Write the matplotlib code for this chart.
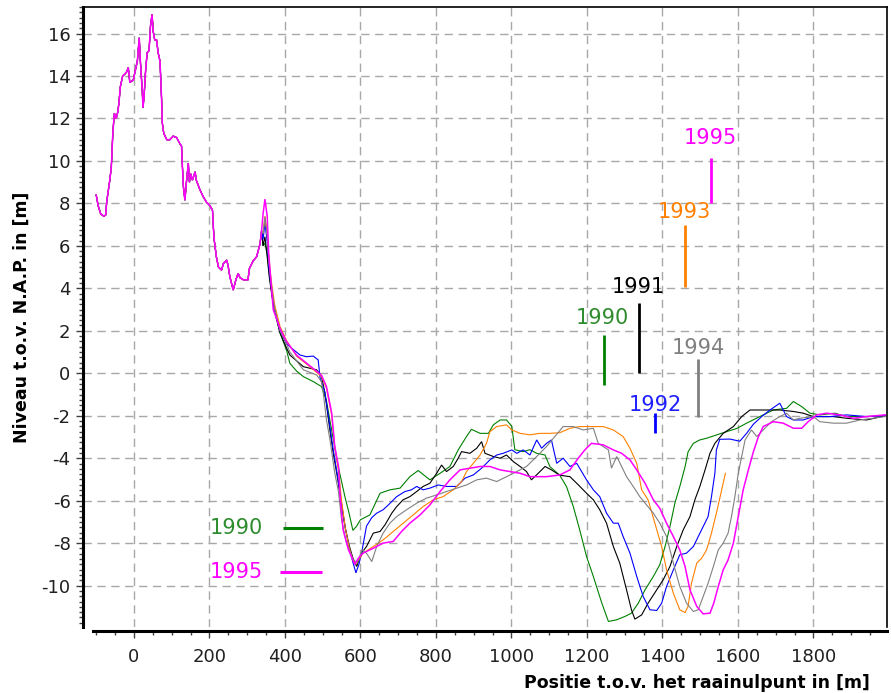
import numpy as np
import matplotlib
matplotlib.use("Agg")
import matplotlib.pyplot as plt
from matplotlib.ticker import MultipleLocator

plt.rcParams['font.family'] = ['DejaVu Sans']
plt.rcParams['lines.scale_dashes'] = False
plt.rcParams['axes.unicode_minus'] = False

# ---------------- data ----------------
# shared dune profile (all surveys nearly identical here): [x, y]
dune = np.array([
    [-100, 8.4], [-95, 7.9], [-88, 7.5], [-80, 7.4], [-75, 7.45], [-72, 8.1], [-64, 9.1],
    [-60, 9.7], [-56, 11.3], [-52, 12.25], [-47, 12.0], [-43, 12.3], [-40, 12.7], [-36, 13.5],
    [-30, 14.0], [-24, 14.1], [-19, 14.2], [-15, 14.4], [-11, 13.7], [-2, 13.8], [4, 14.3],
    [9, 14.7], [14, 15.8], [17, 14.7], [22, 13.3], [24, 12.5], [27, 13.1], [31, 14.3],
    [35, 15.1], [40, 15.2], [44, 16.4], [48, 16.9], [51, 16.1], [55, 15.7], [60, 15.7],
    [64, 15.1], [69, 14.7], [73, 13.0], [75, 11.8], [79, 11.3], [87, 11.0], [95, 11.0],
    [104, 11.17], [113, 11.1], [122, 10.8], [126, 10.7], [128, 9.88], [131, 8.78],
    [135, 8.15], [139, 9.0], [144, 9.9], [147, 9.0], [150, 9.4], [155, 9.1], [162, 9.49],
    [165, 9.1], [175, 8.63], [184, 8.3], [192, 8.06], [201, 7.9], [208, 7.68], [212, 6.36],
    [219, 5.41], [224, 5.0], [232, 4.86], [237, 5.17], [246, 5.33], [250, 5.0], [254, 4.55],
    [263, 3.92], [270, 4.4], [276, 4.7], [281, 4.5], [290, 4.4], [302, 4.4], [306, 4.94],
    [316, 5.3], [325, 5.49], [334, 6.1], [338, 6.7],
])

y1990 = np.array([
    [342, 6.0], [347, 6.13], [353, 5.6], [358, 4.8], [365, 3.8], [373, 2.9], [387, 1.9],
    [404, 1.1], [413, 0.47], [431, 0.1], [449, -0.16], [475, -0.39], [497, -0.63],
    [510, -1.3], [520, -2.3], [530, -3.3], [540, -4.3], [550, -5.1], [560, -5.9],
    [570, -6.6], [580, -7.4], [590, -7.2], [600, -6.9], [625, -6.67], [652, -5.65],
    [678, -5.49], [705, -5.41], [731, -4.87], [753, -4.58], [784, -5.02], [811, -4.71],
    [837, -4.39], [859, -3.61], [881, -2.98], [894, -2.64], [917, -2.83], [939, -2.83],
    [952, -2.43], [970, -2.2], [987, -2.2], [1001, -2.5], [1009, -3.6], [1031, -3.69],
    [1049, -3.6], [1067, -3.77], [1089, -3.85], [1102, -4.4], [1128, -4.8], [1146, -5.34],
    [1164, -6.28], [1181, -7.38], [1199, -8.63], [1217, -9.57], [1239, -10.8],
    [1257, -11.69], [1279, -11.61], [1301, -11.45], [1318, -11.3], [1336, -10.83],
    [1354, -10.2], [1376, -9.57], [1393, -9.02], [1407, -8.16], [1420, -7.22],
    [1433, -6.12], [1446, -5.34], [1460, -4.4], [1468, -3.7], [1482, -3.3], [1499, -3.14],
    [1517, -3.06], [1544, -2.9], [1570, -2.75], [1597, -2.6], [1623, -2.35], [1658, -2.04],
    [1694, -1.73], [1729, -1.65], [1747, -1.33], [1769, -1.57], [1791, -1.88],
    [1817, -1.96], [1857, -1.88], [1888, -2.04], [1941, -2.04], [1990, -2.0],
])

y1991 = np.array([
    [342, 6.0], [347, 6.43], [353, 5.5], [358, 4.6], [365, 3.7], [373, 2.9], [387, 1.9],
    [404, 1.2], [413, 0.86], [449, 0.31], [484, 0.16], [497, -0.16], [506, -0.94],
    [519, -2.67], [528, -3.77], [540, -5.0], [550, -6.2], [560, -7.3], [570, -8.1],
    [580, -8.7], [590, -9.1], [603, -8.47], [616, -8.16], [634, -7.53], [652, -7.45],
    [665, -7.14], [683, -6.59], [696, -6.28], [713, -5.96], [731, -5.81], [749, -5.57],
    [766, -5.33], [784, -5.18], [802, -4.71], [815, -4.32], [828, -4.63], [846, -4.39],
    [859, -4.0], [868, -3.69], [890, -3.77], [908, -3.53], [921, -3.22], [930, -3.77],
    [952, -3.92], [970, -4.0], [987, -3.85], [1005, -4.16], [1023, -4.39], [1040, -4.63],
    [1053, -5.02], [1071, -4.71], [1089, -4.39], [1106, -4.55], [1128, -4.8], [1155, -4.87],
    [1173, -5.18], [1199, -5.65], [1217, -5.96], [1234, -6.43], [1252, -7.06],
    [1270, -8.16], [1287, -8.94], [1305, -10.2], [1318, -11.14], [1327, -11.58],
    [1345, -11.38], [1362, -10.83], [1385, -10.2], [1402, -9.73], [1420, -9.1],
    [1438, -8.16], [1455, -7.38], [1473, -6.75], [1486, -5.96], [1499, -5.34],
    [1513, -4.55], [1526, -3.77], [1539, -3.3], [1561, -2.83], [1588, -2.51],
    [1610, -2.04], [1632, -1.73], [1676, -1.73], [1711, -1.73], [1747, -1.8],
    [1773, -1.88], [1800, -2.04], [1853, -2.04], [1888, -2.12], [1941, -2.2], [1990, -2.0],
])

y1992 = np.array([
    [342, 6.3], [347, 7.07], [353, 6.2], [358, 4.9], [365, 3.9], [373, 3.0], [387, 2.0],
    [404, 1.4], [413, 1.25], [440, 0.86], [457, 0.78], [475, 0.81], [488, 0.63],
    [493, -0.2], [506, -0.9], [519, -2.5], [528, -3.6], [540, -4.9], [550, -6.2],
    [560, -7.3], [570, -8.2], [580, -8.9], [588, -9.4], [596, -9.0], [603, -8.47],
    [616, -7.2], [630, -6.8], [643, -6.59], [660, -6.43], [674, -6.2], [696, -5.81],
    [718, -5.57], [735, -5.49], [749, -5.33], [766, -5.49], [784, -5.41], [806, -5.26],
    [828, -5.33], [855, -5.33], [877, -4.94], [899, -4.79], [921, -4.47], [943, -4.08],
    [961, -3.85], [978, -3.77], [1001, -3.61], [1014, -3.77], [1031, -3.61], [1049, -3.85],
    [1067, -3.14], [1080, -3.53], [1093, -3.3], [1106, -3.14], [1120, -4.24], [1137, -4.0],
    [1155, -4.39], [1173, -4.24], [1199, -5.02], [1217, -5.49], [1234, -5.81],
    [1252, -6.59], [1270, -7.06], [1283, -7.06], [1296, -7.69], [1314, -8.47],
    [1332, -9.57], [1349, -10.51], [1367, -11.14], [1385, -11.17], [1398, -10.83],
    [1411, -10.04], [1429, -9.26], [1446, -8.55], [1464, -8.47], [1482, -8.16],
    [1495, -7.69], [1508, -7.22], [1521, -6.75], [1530, -5.81], [1539, -4.71],
    [1543, -3.61], [1552, -3.11], [1579, -3.1], [1605, -3.2], [1623, -2.83], [1641, -2.4],
    [1663, -2.04], [1685, -1.73], [1711, -1.41], [1729, -2.04], [1747, -2.2], [1773, -2.2],
    [1800, -2.04], [1844, -2.04], [1888, -1.96], [1941, -2.04], [1990, -2.0],
])

y1993 = np.array([
    [342, 6.6], [347, 7.4], [353, 6.6], [358, 5.3], [365, 4.2], [373, 3.2], [387, 2.2],
    [404, 1.55], [431, 0.8], [466, 0.31], [497, -0.16], [510, -0.7], [524, -2.0],
    [532, -3.5], [542, -4.6], [550, -6.0], [560, -7.3], [570, -8.2], [580, -8.8],
    [590, -8.94], [607, -8.47], [634, -8.16], [660, -7.85], [687, -7.45], [713, -7.06],
    [740, -6.67], [766, -6.28], [793, -5.96], [819, -5.81], [846, -5.49], [868, -5.1],
    [881, -4.63], [899, -4.24], [917, -3.85], [934, -3.3], [943, -2.75], [961, -2.51],
    [987, -2.43], [1001, -2.67], [1023, -2.83], [1049, -2.9], [1075, -2.83], [1102, -2.83],
    [1128, -2.8], [1155, -2.59], [1181, -2.51], [1217, -2.51], [1243, -2.51], [1270, -2.67],
    [1296, -2.98], [1314, -3.53], [1332, -4.24], [1345, -5.49], [1362, -5.96],
    [1380, -7.06], [1398, -8.16], [1411, -9.26], [1429, -10.36], [1446, -11.14],
    [1460, -11.27], [1468, -10.98], [1477, -9.89], [1491, -8.94], [1504, -8.71],
    [1517, -8.32], [1530, -7.53], [1543, -6.59], [1557, -5.49], [1567, -4.71],
])

y1994 = np.array([
    [342, 6.6], [347, 7.37], [353, 6.5], [358, 5.2], [365, 4.0], [373, 3.0], [387, 2.0],
    [404, 1.4], [413, 1.0], [449, 0.16], [484, -0.08], [497, -0.4], [502, -1.0],
    [510, -2.2], [519, -3.1], [532, -4.7], [542, -5.6], [550, -6.9], [563, -8.0],
    [581, -8.8], [592, -8.9], [605, -8.3], [617, -8.5], [630, -8.87], [643, -8.16],
    [660, -7.53], [678, -7.06], [696, -6.75], [722, -6.43], [749, -6.12], [775, -5.88],
    [802, -5.73], [828, -5.57], [855, -5.41], [881, -5.26], [908, -5.02], [934, -4.94],
    [961, -5.1], [987, -4.87], [1014, -4.63], [1040, -4.39], [1067, -3.92], [1093, -3.45],
    [1115, -2.98], [1137, -2.51], [1164, -2.51], [1190, -2.67], [1217, -2.59],
    [1230, -3.3], [1243, -3.45], [1257, -3.61], [1265, -4.47], [1279, -3.92],
    [1292, -4.4], [1305, -4.87], [1323, -5.34], [1340, -5.81], [1358, -6.2], [1376, -6.59],
    [1393, -7.06], [1411, -7.69], [1429, -8.94], [1446, -10.04], [1464, -10.83],
    [1482, -11.22], [1495, -11.14], [1508, -10.51], [1521, -9.89], [1535, -9.1],
    [1548, -8.32], [1561, -8.0], [1574, -7.53], [1583, -6.75], [1592, -5.81],
    [1601, -4.71], [1610, -3.92], [1619, -3.14], [1636, -2.67], [1650, -2.98],
    [1667, -2.67], [1689, -2.28], [1711, -2.04], [1729, -1.88], [1747, -2.2],
    [1764, -2.12], [1800, -2.04], [1817, -2.28], [1853, -2.35], [1888, -2.35],
    [1923, -2.2], [1990, -2.04],
])

y1995 = np.array([
    [342, 7.5], [347, 8.2], [353, 7.4], [357, 5.6], [362, 4.5], [369, 3.0], [387, 2.1],
    [404, 1.5], [431, 0.85], [466, 0.35], [497, -0.1], [510, -0.63], [524, -1.88],
    [532, -3.45], [542, -4.4], [546, -5.8], [554, -7.37], [568, -8.3], [585, -9.0],
    [595, -8.7], [607, -8.47], [634, -8.24], [660, -8.0], [687, -7.92], [709, -7.45],
    [731, -7.06], [758, -6.67], [784, -6.2], [811, -5.57], [837, -5.02], [864, -4.55],
    [890, -4.47], [917, -4.39], [943, -4.39], [970, -4.55], [996, -4.63], [1023, -4.71],
    [1049, -4.87], [1093, -4.87], [1128, -4.79], [1155, -4.55], [1177, -4.0],
    [1195, -3.6], [1212, -3.3], [1243, -3.37], [1270, -3.61], [1292, -3.77],
    [1314, -4.08], [1332, -4.55], [1354, -5.18], [1376, -5.96], [1393, -6.36],
    [1411, -7.06], [1429, -7.69], [1446, -8.32], [1460, -9.1], [1473, -10.2],
    [1491, -10.98], [1508, -11.33], [1526, -11.3], [1536, -10.83], [1548, -10.04],
    [1561, -9.26], [1574, -8.79], [1588, -8.0], [1601, -6.75], [1614, -5.49],
    [1627, -4.6], [1641, -3.7], [1654, -3.0], [1667, -2.51], [1694, -2.28], [1720, -2.35],
    [1747, -2.59], [1769, -2.59], [1786, -2.28], [1809, -1.96], [1835, -1.88],
    [1870, -1.96], [1906, -2.12], [1941, -2.04], [1990, -1.96],
])

years = ['1990', '1991', '1992', '1993', '1994', '1995']
colors = ['#008000', '#000000', '#0000ff', '#ff8000', '#808080', '#ff00ff']
label_colors = ['#2e8b2e', '#000000', '#2020ff', '#ff8000', '#808080', '#ff00ff']
series = [y1990, y1991, y1992, y1993, y1994, y1995]

# year markers: label position and vertical bar (x, y_top, y_bottom)
marker_label_x = [1241, 1335, 1381, 1458, 1495, 1527]
marker_label_y = [2.6, 4.08, -1.49, 7.6, 1.19, 11.07]
marker_bar_x = [1245, 1338, 1380, 1460, 1494, 1528]
marker_bar_top = [1.8, 3.33, -1.87, 7.0, 0.67, 10.13]
marker_bar_bot = [-0.55, 0.0, -2.81, 4.06, -2.06, 8.0]

# key lines bottom-left
key_years = ['1990', '1995']
key_colors = ['#008000', '#ff00ff']
key_label_colors = ['#2e8b2e', '#ff00ff']
key_x0 = [395, 388]
key_x1 = [500, 498]
key_y = [-7.28, -9.38]
key_text_x = [342, 342]

# ---------------- plot ----------------
fig = plt.figure(figsize=(8.91, 6.93), dpi=100)
ax = fig.add_axes([83 / 891, 1 - 627 / 693, (887 - 83) / 891, (627 - 7) / 693])

lws = [0.8, 0.8, 0.8, 0.8, 0.8, 1.1]
for yr, c, s, lw in zip(years, colors, series, lws):
    d = np.vstack([dune, s])
    ax.plot(d[:, 0], d[:, 1], color=c, lw=lw, zorder=3, solid_joinstyle='miter')

for i, yr in enumerate(years):
    ax.plot([marker_bar_x[i], marker_bar_x[i]], [marker_bar_bot[i], marker_bar_top[i]],
            color=colors[i], lw=2.0, solid_capstyle='butt', zorder=4)
    ax.text(marker_label_x[i], marker_label_y[i], yr, color=label_colors[i],
            fontsize=15, ha='center', va='center', zorder=5)

for i, yr in enumerate(key_years):
    ax.plot([key_x0[i], key_x1[i]], [key_y[i], key_y[i]], color=key_colors[i], lw=2.2,
            solid_capstyle='butt', zorder=4)
    ax.text(key_text_x[i], key_y[i], yr, color=key_label_colors[i], fontsize=15,
            ha='right', va='center', zorder=5)

ax.set_xlim(-135, 1995)
ax.set_ylim(-11.95, 17.25)
ax.xaxis.set_major_locator(MultipleLocator(200))
ax.xaxis.set_minor_locator(MultipleLocator(50))
ax.yaxis.set_major_locator(MultipleLocator(2))
ax.yaxis.set_minor_locator(MultipleLocator(0.25))

ax.grid(True, which='major', color='#a8a8a8', lw=1.0, linestyle=(0, (6, 4)), zorder=0)
ax.set_axisbelow(True)

ax.tick_params(axis='both', which='major', length=5, width=1, color='#404040',
               labelsize=13, labelcolor='#202020', direction='out')
ax.tick_params(axis='both', which='minor', length=3, width=1, color='#404040', direction='out')
ax.tick_params(axis='x', which='major', pad=7)
ax.tick_params(axis='y', which='major', pad=4)

for side in ['left', 'bottom']:
    ax.spines[side].set_linewidth(2.2)
    ax.spines[side].set_color('black')
for side in ['top', 'right']:
    ax.spines[side].set_linewidth(1.2)
    ax.spines[side].set_color('black')
ax.spines['bottom'].set_position(('outward', 3))
ax.spines['bottom'].set_bounds(-109, 1995)

fig.text(870 / 891, 1 - 683 / 693, 'Positie t.o.v. het raainulpunt in [m]',
         fontsize=12.5, fontweight='bold', ha='right', va='center')
fig.text(22 / 891, 1 - 317 / 693, 'Niveau t.o.v. N.A.P. in [m]',
         fontsize=12.5, fontweight='bold', ha='center', va='center', rotation=90)

fig.savefig('out.png', dpi=100)
